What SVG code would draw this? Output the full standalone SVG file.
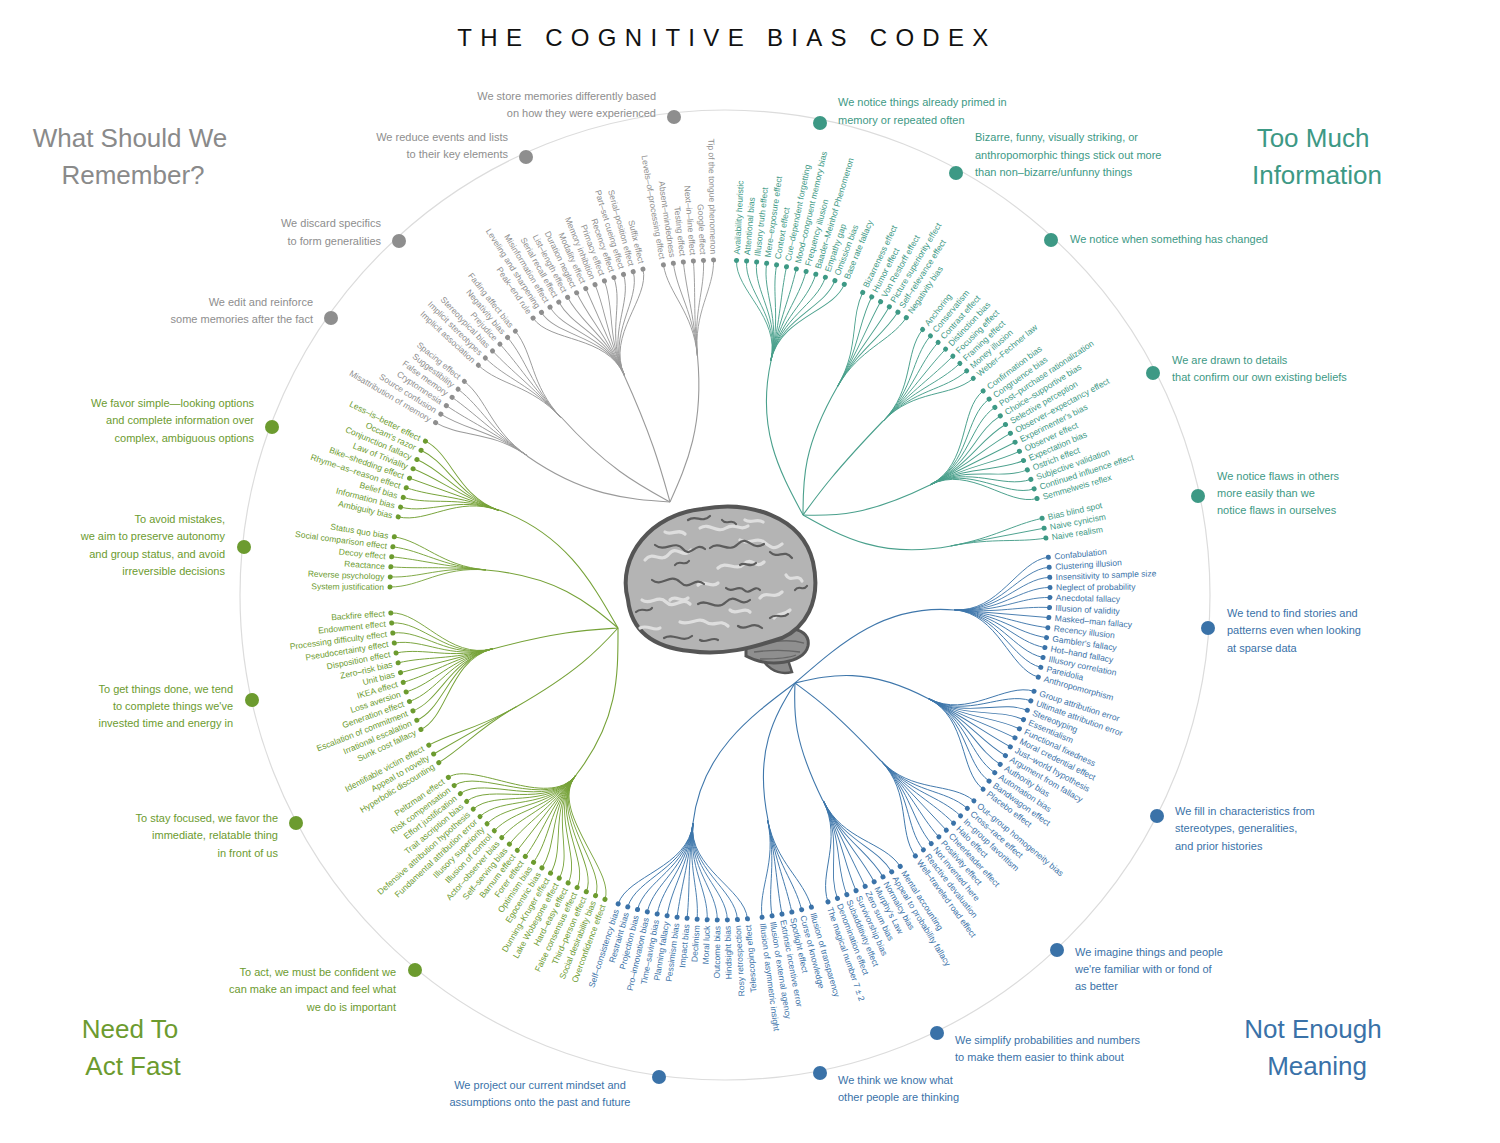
<svg xmlns="http://www.w3.org/2000/svg" width="1500" height="1143" viewBox="0 0 1500 1143">
<style>
.it text{font-family:"Liberation Sans",Arial,sans-serif;font-size:8.5px;stroke:none}
.it text.e{text-anchor:end}
.it circle{stroke:none}
#connectors path{fill:none;stroke-width:1.1}
.qg{fill:#8e8e8e;stroke:#9a9a9a}
.qt{fill:#3d9985;stroke:#4aa08c}
.qb{fill:#3a72a8;stroke:#3f77ab}
.qn{fill:#6c9b2f;stroke:#76a238}
#connectors .qg,#connectors .qt,#connectors .qb,#connectors .qn{fill:none}
.ds{font-family:"Liberation Sans",Arial,sans-serif;font-size:11px}
.hd{font-family:"Liberation Sans",Arial,sans-serif;font-size:26px;text-anchor:middle}
.rd{stroke:none}
.gy{fill:none;stroke:#5c5c5c;stroke-width:2.2;stroke-linecap:round;stroke-linejoin:round}
.gw{fill:none;stroke:#dedede;stroke-width:3.2;stroke-linecap:round}
</style>
<defs>
<path id="o" fill="none" stroke-width="0.9" d="M235 0L330 0"/>
<path id="a1" fill="none" stroke-width="0.9" d="M235 -3.6C279.7 -4.3 300 0 330 0"/>
<path id="a2" fill="none" stroke-width="0.9" d="M234.9 -7.2C279.5 -8.6 300 0 330 0"/>
<path id="a3" fill="none" stroke-width="0.9" d="M234.8 -10.8C279.4 -12.9 300 0 330 0"/>
<path id="a4" fill="none" stroke-width="0.9" d="M234.6 -14.3C279.2 -17 300 0 330 0"/>
<path id="a5" fill="none" stroke-width="0.9" d="M234.3 -17.9C278.8 -21.3 300 0 330 0"/>
<path id="a6" fill="none" stroke-width="0.9" d="M234 -21.5C278.5 -25.6 300 0 330 0"/>
<path id="a7" fill="none" stroke-width="0.9" d="M233.7 -25.1C278.1 -29.9 300 0 330 0"/>
<path id="a8" fill="none" stroke-width="0.9" d="M233.2 -28.6C277.5 -34 300 0 330 0"/>
<path id="a9" fill="none" stroke-width="0.9" d="M232.8 -32.2C277 -38.3 300 0 330 0"/>
<path id="a10" fill="none" stroke-width="0.9" d="M232.3 -35.8C276.4 -42.6 300 0 330 0"/>
<path id="a11" fill="none" stroke-width="0.9" d="M231.7 -39.3C275.7 -46.8 300 0 330 0"/>
<path id="a12" fill="none" stroke-width="0.9" d="M231.1 -42.8C275 -50.9 300 0 330 0"/>
<path id="a13" fill="none" stroke-width="0.9" d="M230.4 -46.4C274.2 -55.2 300 0 330 0"/>
<path id="a14" fill="none" stroke-width="0.9" d="M229.6 -49.9C273.2 -59.4 300 0 330 0"/>
<path id="a16" fill="none" stroke-width="0.9" d="M228 -56.9C271.3 -67.7 300 0 330 0"/>
<path id="a18" fill="none" stroke-width="0.9" d="M226.2 -63.8C269.2 -75.9 300 0 330 0"/>
<path id="a20" fill="none" stroke-width="0.9" d="M224.1 -70.7C266.7 -84.1 300 0 330 0"/>
<path id="b1" fill="none" stroke-width="0.9" d="M235 3.6C279.7 4.3 300 0 330 0"/>
<path id="b2" fill="none" stroke-width="0.9" d="M234.9 7.2C279.5 8.6 300 0 330 0"/>
<path id="b3" fill="none" stroke-width="0.9" d="M234.8 10.8C279.4 12.9 300 0 330 0"/>
<path id="b4" fill="none" stroke-width="0.9" d="M234.6 14.3C279.2 17 300 0 330 0"/>
<path id="b5" fill="none" stroke-width="0.9" d="M234.3 17.9C278.8 21.3 300 0 330 0"/>
<path id="b6" fill="none" stroke-width="0.9" d="M234 21.5C278.5 25.6 300 0 330 0"/>
<path id="b7" fill="none" stroke-width="0.9" d="M233.7 25.1C278.1 29.9 300 0 330 0"/>
<path id="b8" fill="none" stroke-width="0.9" d="M233.2 28.6C277.5 34 300 0 330 0"/>
<path id="b9" fill="none" stroke-width="0.9" d="M232.8 32.2C277 38.3 300 0 330 0"/>
<path id="b10" fill="none" stroke-width="0.9" d="M232.3 35.8C276.4 42.6 300 0 330 0"/>
<path id="b11" fill="none" stroke-width="0.9" d="M231.7 39.3C275.7 46.8 300 0 330 0"/>
<path id="b12" fill="none" stroke-width="0.9" d="M231.1 42.8C275 50.9 300 0 330 0"/>
<path id="b13" fill="none" stroke-width="0.9" d="M230.4 46.4C274.2 55.2 300 0 330 0"/>
<path id="b14" fill="none" stroke-width="0.9" d="M229.6 49.9C273.2 59.4 300 0 330 0"/>
<path id="b16" fill="none" stroke-width="0.9" d="M228 56.9C271.3 67.7 300 0 330 0"/>
<path id="b18" fill="none" stroke-width="0.9" d="M226.2 63.8C269.2 75.9 300 0 330 0"/>
<path id="b20" fill="none" stroke-width="0.9" d="M224.1 70.7C266.7 84.1 300 0 330 0"/>
</defs>
<rect width="1500" height="1143" fill="#fff"/>
<text x="727" y="46" font-family="'Liberation Sans',Arial,sans-serif" font-size="24" letter-spacing="8.3" text-anchor="middle" fill="#111">THE COGNITIVE BIAS CODEX</text>
<circle cx="725" cy="595" r="485" fill="none" stroke="#dcdcdc" stroke-width="1.2"/>
<g id="titles">
<text class="hd" fill="#8a8a8a"><tspan x="130" y="147">What Should We</tspan><tspan x="133" y="184">Remember?</tspan></text>
<text class="hd" fill="#3d9985"><tspan x="1313" y="147">Too Much</tspan><tspan x="1317" y="184">Information</tspan></text>
<text class="hd" fill="#6c9b2f"><tspan x="130" y="1038">Need To</tspan><tspan x="133" y="1075">Act Fast</tspan></text>
<text class="hd" fill="#3a72a8"><tspan x="1313" y="1038">Not Enough</tspan><tspan x="1317" y="1075">Meaning</tspan></text>
</g>
<g id="brain">
<path d="M758 652C764 666 776 676 792 672L786 654Z" fill="#8a8a8a" stroke="#555" stroke-width="2.5"/>
<path d="M746 642C772 622 812 624 808 646C804 664 768 668 746 656Z" fill="#8f8f8f" stroke="#555" stroke-width="3"/>
<g fill="none" stroke="#666" stroke-width="1.3"><path d="M756 645c16-4 34-6 48-2M754 652c16-2 32-2 46 0M760 659c12 0 26 0 36-4"/></g>
<path d="M628 600C616 556 652 514 702 509C748 500 802 516 813 562C822 603 804 628 782 638C752 648 722 656 690 651C660 648 632 636 628 600Z" fill="#b4b4b4" stroke="#555" stroke-width="4"/>
<g class="gw">
<path d="M645 560c8-10 16 4 24-6s14 6 22-4"/><path d="M700 528c10-6 16 6 26 0s14 4 22-2"/><path d="M642 600c8 6 16-6 24 2s16-6 24 2"/><path d="M718 568c8-8 18 4 26-4s12 6 20-2"/><path d="M680 622c10 4 18-6 26 0s14-4 22 4"/><path d="M760 598c6-8 14 2 22-6"/><path d="M665 532c6 4 14-4 20 2"/><path d="M740 540c8 6 16-4 24 2s10 8 18 2"/><path d="M698 585c6-6 14 4 20-2"/><path d="M640 628c8-4 14 4 20 0"/><path d="M786 575c4 8 12-2 16 6"/><path d="M730 610c6 6 14-4 20 2"/><path d="M670 600c6-6 12 4 18-2"/><path d="M745 520c6 4 12-2 18 2"/><path d="M790 610c-6 6-12 2-16 8"/>
</g>
<g class="gy">
<path d="M655 545c10 8 20-6 28 4s12-8 22 0"/><path d="M710 548c10-8 18 6 28-4s14 8 26 0"/><path d="M652 580c10 8 18-8 28 2s14-6 24 2"/><path d="M698 604c10-6 18 8 28-2s14 6 24-2"/><path d="M664 638c10-6 18 6 28-2"/><path d="M738 626c8 6 14-6 24 2"/><path d="M688 520c8-6 14 4 22-4"/><path d="M770 552c8 8 14-4 22 6"/><path d="M636 612c6-6 12 2 16-4"/><path d="M726 588c6 6 12-4 18 2s10-6 16 0"/><path d="M770 618c6-6 12 2 18-4"/><path d="M675 565c4-6 10 2 14-4"/><path d="M740 565c6-4 10 4 16-2"/><path d="M700 640c6 4 12-4 18 0"/><path d="M795 590c4-6 8 2 12-4"/><path d="M722 520c4 6 10-2 14 4"/>
</g>
</g>
<g id="connectors">
<path class="qt" d="M771 361C756 429 780 472 803 515"/>
<path class="qt" d="M837.5 386.5C802.5 447 803 481 803 515"/>
<path class="qt" d="M883 421C834.6 471.4 819 493 803 515"/>
<path class="qt" d="M930 485C867 516 835 516 803 515"/>
<path class="qt" d="M951 546C882 559 842 537 803 515"/>
<path class="qb" d="M954 610C884 604 840 644 795 683"/>
<path class="qb" d="M928 698.5C866 666 830 675 795 683"/>
<path class="qb" d="M881 761C833 710 814 697 795 683"/>
<path class="qb" d="M823 801C792 738 794 711 795 683"/>
<path class="qb" d="M768 820C754 751 774 717 795 683"/>
<path class="qb" d="M693 823C701 754 748 718 795 683"/>
<path class="qn" d="M576 775C619 720 618 674 618 628"/>
<path class="qn" d="M516 707C577 672 598 650 618 628"/>
<path class="qn" d="M492.5 649C560 631 589 630 618 628"/>
<path class="qn" d="M486 570C556 576 587 602 618 628"/>
<path class="qn" d="M499 510C565 534 591 581 618 628"/>
<path class="qg" d="M527 456C584 496 627 499 670 502"/>
<path class="qg" d="M561 417C608 469 639 485 670 502"/>
<path class="qg" d="M624 375C653 439 661 470 670 502"/>
<path class="qg" d="M697.5 356C704 426 687 464 670 502"/>
</g>
<g id="biases" transform="translate(720 590)">
<g id="c1" class="it qt" transform="rotate(-77.5)">
<g transform="rotate(-9.625)"><use href="#b11"/><circle cx="330" r="2.5"/><text x="336" y="3">Availability heuristic</text></g>
<g transform="rotate(-7.875)"><use href="#b9"/><circle cx="330" r="2.5"/><text x="336" y="3">Attentional bias</text></g>
<g transform="rotate(-6.125)"><use href="#b7"/><circle cx="330" r="2.5"/><text x="336" y="3">Illusory truth effect</text></g>
<g transform="rotate(-4.375)"><use href="#b5"/><circle cx="330" r="2.5"/><text x="336" y="3">Mere–exposure effect</text></g>
<g transform="rotate(-2.625)"><use href="#b3"/><circle cx="330" r="2.5"/><text x="336" y="3">Context effect</text></g>
<g transform="rotate(-0.875)"><use href="#b1"/><circle cx="330" r="2.5"/><text x="336" y="3">Cue–dependent forgetting</text></g>
<g transform="rotate(0.875)"><use href="#a1"/><circle cx="330" r="2.5"/><text x="336" y="3">Mood–congruent memory bias</text></g>
<g transform="rotate(2.625)"><use href="#a3"/><circle cx="330" r="2.5"/><text x="336" y="3">Frequency illusion</text></g>
<g transform="rotate(4.375)"><use href="#a5"/><circle cx="330" r="2.5"/><text x="336" y="3">Baader–Meinhof Phenomenon</text></g>
<g transform="rotate(6.125)"><use href="#a7"/><circle cx="330" r="2.5"/><text x="336" y="3">Empathy gap</text></g>
<g transform="rotate(7.875)"><use href="#a9"/><circle cx="330" r="2.5"/><text x="336" y="3">Omission bias</text></g>
<g transform="rotate(9.625)"><use href="#a11"/><circle cx="330" r="2.5"/><text x="336" y="3">Base rate fallacy</text></g>
</g>
<g id="c2" class="it qt" transform="rotate(-60)">
<g transform="rotate(-4.375)"><use href="#b5"/><circle cx="330" r="2.5"/><text x="336" y="3">Bizarreness effect</text></g>
<g transform="rotate(-2.625)"><use href="#b3"/><circle cx="330" r="2.5"/><text x="336" y="3">Humor effect</text></g>
<g transform="rotate(-0.875)"><use href="#b1"/><circle cx="330" r="2.5"/><text x="336" y="3">Von Restorff effect</text></g>
<g transform="rotate(0.875)"><use href="#a1"/><circle cx="330" r="2.5"/><text x="336" y="3">Picture superiority effect</text></g>
<g transform="rotate(2.625)"><use href="#a3"/><circle cx="330" r="2.5"/><text x="336" y="3">Self–relevance effect</text></g>
<g transform="rotate(4.375)"><use href="#a5"/><circle cx="330" r="2.5"/><text x="336" y="3">Negativity bias</text></g>
</g>
<g id="c3" class="it qt" transform="rotate(-46)">
<g transform="rotate(-6.125)"><use href="#b7"/><circle cx="330" r="2.5"/><text x="336" y="3">Anchoring</text></g>
<g transform="rotate(-4.375)"><use href="#b5"/><circle cx="330" r="2.5"/><text x="336" y="3">Conservatism</text></g>
<g transform="rotate(-2.625)"><use href="#b3"/><circle cx="330" r="2.5"/><text x="336" y="3">Contrast effect</text></g>
<g transform="rotate(-0.875)"><use href="#b1"/><circle cx="330" r="2.5"/><text x="336" y="3">Distinction bias</text></g>
<g transform="rotate(0.875)"><use href="#a1"/><circle cx="330" r="2.5"/><text x="336" y="3">Focusing effect</text></g>
<g transform="rotate(2.625)"><use href="#a3"/><circle cx="330" r="2.5"/><text x="336" y="3">Framing effect</text></g>
<g transform="rotate(4.375)"><use href="#a5"/><circle cx="330" r="2.5"/><text x="336" y="3">Money illusion</text></g>
<g transform="rotate(6.125)"><use href="#a7"/><circle cx="330" r="2.5"/><text x="336" y="3">Weber–Fechner law</text></g>
</g>
<g id="c4" class="it qt" transform="rotate(-26.6)">
<g transform="rotate(-10.5)"><use href="#b12"/><circle cx="330" r="2.5"/><text x="336" y="3">Confirmation bias</text></g>
<g transform="rotate(-8.75)"><use href="#b10"/><circle cx="330" r="2.5"/><text x="336" y="3">Congruence bias</text></g>
<g transform="rotate(-7)"><use href="#b8"/><circle cx="330" r="2.5"/><text x="336" y="3">Post–purchase rationalization</text></g>
<g transform="rotate(-5.25)"><use href="#b6"/><circle cx="330" r="2.5"/><text x="336" y="3">Choice–supportive bias</text></g>
<g transform="rotate(-3.5)"><use href="#b4"/><circle cx="330" r="2.5"/><text x="336" y="3">Selective perception</text></g>
<g transform="rotate(-1.75)"><use href="#b2"/><circle cx="330" r="2.5"/><text x="336" y="3">Observer–expectancy effect</text></g>
<g><use href="#o"/><circle cx="330" r="2.5"/><text x="336" y="3">Experimenter's bias</text></g>
<g transform="rotate(1.75)"><use href="#a2"/><circle cx="330" r="2.5"/><text x="336" y="3">Observer effect</text></g>
<g transform="rotate(3.5)"><use href="#a4"/><circle cx="330" r="2.5"/><text x="336" y="3">Expectation bias</text></g>
<g transform="rotate(5.25)"><use href="#a6"/><circle cx="330" r="2.5"/><text x="336" y="3">Ostrich effect</text></g>
<g transform="rotate(7)"><use href="#a8"/><circle cx="330" r="2.5"/><text x="336" y="3">Subjective validation</text></g>
<g transform="rotate(8.75)"><use href="#a10"/><circle cx="330" r="2.5"/><text x="336" y="3">Continued influence effect</text></g>
<g transform="rotate(10.5)"><use href="#a12"/><circle cx="330" r="2.5"/><text x="336" y="3">Semmelweis reflex</text></g>
</g>
<g id="c5" class="it qt" transform="rotate(-10.8)">
<g transform="rotate(-1.75)"><use href="#b2"/><circle cx="330" r="2.5"/><text x="336" y="3">Bias blind spot</text></g>
<g><use href="#o"/><circle cx="330" r="2.5"/><text x="336" y="3">Naive cynicism</text></g>
<g transform="rotate(1.75)"><use href="#a2"/><circle cx="330" r="2.5"/><text x="336" y="3">Naive realism</text></g>
</g>
<g id="c6" class="it qb" transform="rotate(4.8)">
<g transform="rotate(-10.5)"><use href="#b12"/><circle cx="330" r="2.5"/><text x="336" y="3">Confabulation</text></g>
<g transform="rotate(-8.75)"><use href="#b10"/><circle cx="330" r="2.5"/><text x="336" y="3">Clustering illusion</text></g>
<g transform="rotate(-7)"><use href="#b8"/><circle cx="330" r="2.5"/><text x="336" y="3">Insensitivity to sample size</text></g>
<g transform="rotate(-5.25)"><use href="#b6"/><circle cx="330" r="2.5"/><text x="336" y="3">Neglect of probability</text></g>
<g transform="rotate(-3.5)"><use href="#b4"/><circle cx="330" r="2.5"/><text x="336" y="3">Anecdotal fallacy</text></g>
<g transform="rotate(-1.75)"><use href="#b2"/><circle cx="330" r="2.5"/><text x="336" y="3">Illusion of validity</text></g>
<g><use href="#o"/><circle cx="330" r="2.5"/><text x="336" y="3">Masked–man fallacy</text></g>
<g transform="rotate(1.75)"><use href="#a2"/><circle cx="330" r="2.5"/><text x="336" y="3">Recency illusion</text></g>
<g transform="rotate(3.5)"><use href="#a4"/><circle cx="330" r="2.5"/><text x="336" y="3">Gambler's fallacy</text></g>
<g transform="rotate(5.25)"><use href="#a6"/><circle cx="330" r="2.5"/><text x="336" y="3">Hot–hand fallacy</text></g>
<g transform="rotate(7)"><use href="#a8"/><circle cx="330" r="2.5"/><text x="336" y="3">Illusory correlation</text></g>
<g transform="rotate(8.75)"><use href="#a10"/><circle cx="330" r="2.5"/><text x="336" y="3">Pareidolia</text></g>
<g transform="rotate(10.5)"><use href="#a12"/><circle cx="330" r="2.5"/><text x="336" y="3">Anthropomorphism</text></g>
</g>
<g id="c7" class="it qb" transform="rotate(27.5)">
<g transform="rotate(-9.625)"><use href="#b11"/><circle cx="330" r="2.5"/><text x="336" y="3">Group attribution error</text></g>
<g transform="rotate(-7.875)"><use href="#b9"/><circle cx="330" r="2.5"/><text x="336" y="3">Ultimate attribution error</text></g>
<g transform="rotate(-6.125)"><use href="#b7"/><circle cx="330" r="2.5"/><text x="336" y="3">Stereotyping</text></g>
<g transform="rotate(-4.375)"><use href="#b5"/><circle cx="330" r="2.5"/><text x="336" y="3">Essentialism</text></g>
<g transform="rotate(-2.625)"><use href="#b3"/><circle cx="330" r="2.5"/><text x="336" y="3">Functional fixedness</text></g>
<g transform="rotate(-0.875)"><use href="#b1"/><circle cx="330" r="2.5"/><text x="336" y="3">Moral credential effect</text></g>
<g transform="rotate(0.875)"><use href="#a1"/><circle cx="330" r="2.5"/><text x="336" y="3">Just–world hypothesis</text></g>
<g transform="rotate(2.625)"><use href="#a3"/><circle cx="330" r="2.5"/><text x="336" y="3">Argument from fallacy</text></g>
<g transform="rotate(4.375)"><use href="#a5"/><circle cx="330" r="2.5"/><text x="336" y="3">Authority bias</text></g>
<g transform="rotate(6.125)"><use href="#a7"/><circle cx="330" r="2.5"/><text x="336" y="3">Automation bias</text></g>
<g transform="rotate(7.875)"><use href="#a9"/><circle cx="330" r="2.5"/><text x="336" y="3">Bandwagon effect</text></g>
<g transform="rotate(9.625)"><use href="#a11"/><circle cx="330" r="2.5"/><text x="336" y="3">Placebo effect</text></g>
</g>
<g id="c8" class="it qb" transform="rotate(46.7)">
<g transform="rotate(-7)"><use href="#b8"/><circle cx="330" r="2.5"/><text x="336" y="3">Out–group homogeneity bias</text></g>
<g transform="rotate(-5.25)"><use href="#b6"/><circle cx="330" r="2.5"/><text x="336" y="3">Cross–race effect</text></g>
<g transform="rotate(-3.5)"><use href="#b4"/><circle cx="330" r="2.5"/><text x="336" y="3">In–group favoritism</text></g>
<g transform="rotate(-1.75)"><use href="#b2"/><circle cx="330" r="2.5"/><text x="336" y="3">Halo effect</text></g>
<g><use href="#o"/><circle cx="330" r="2.5"/><text x="336" y="3">Cheerleader effect</text></g>
<g transform="rotate(1.75)"><use href="#a2"/><circle cx="330" r="2.5"/><text x="336" y="3">Positivity effect</text></g>
<g transform="rotate(3.5)"><use href="#a4"/><circle cx="330" r="2.5"/><text x="336" y="3">Not invented here</text></g>
<g transform="rotate(5.25)"><use href="#a6"/><circle cx="330" r="2.5"/><text x="336" y="3">Reactive devaluation</text></g>
<g transform="rotate(7)"><use href="#a8"/><circle cx="330" r="2.5"/><text x="336" y="3">Well–traveled road effect</text></g>
</g>
<g id="c9" class="it qb" transform="rotate(63.9)">
<g transform="rotate(-7)"><use href="#b8"/><circle cx="330" r="2.5"/><text x="336" y="3">Mental accounting</text></g>
<g transform="rotate(-5.25)"><use href="#b6"/><circle cx="330" r="2.5"/><text x="336" y="3">Appeal to probability fallacy</text></g>
<g transform="rotate(-3.5)"><use href="#b4"/><circle cx="330" r="2.5"/><text x="336" y="3">Normalcy bias</text></g>
<g transform="rotate(-1.75)"><use href="#b2"/><circle cx="330" r="2.5"/><text x="336" y="3">Murphy's Law</text></g>
<g><use href="#o"/><circle cx="330" r="2.5"/><text x="336" y="3">Zero sum bias</text></g>
<g transform="rotate(1.75)"><use href="#a2"/><circle cx="330" r="2.5"/><text x="336" y="3">Survivorship bias</text></g>
<g transform="rotate(3.5)"><use href="#a4"/><circle cx="330" r="2.5"/><text x="336" y="3">Subadditivity effect</text></g>
<g transform="rotate(5.25)"><use href="#a6"/><circle cx="330" r="2.5"/><text x="336" y="3">Denomination effect</text></g>
<g transform="rotate(7)"><use href="#a8"/><circle cx="330" r="2.5"/><text x="336" y="3">The magical number 7 ± 2</text></g>
</g>
<g id="c10" class="it qb" transform="rotate(78.3)">
<g transform="rotate(-4.375)"><use href="#b5"/><circle cx="330" r="2.5"/><text x="336" y="3">Illusion of transparency</text></g>
<g transform="rotate(-2.625)"><use href="#b3"/><circle cx="330" r="2.5"/><text x="336" y="3">Curse of knowledge</text></g>
<g transform="rotate(-0.875)"><use href="#b1"/><circle cx="330" r="2.5"/><text x="336" y="3">Spotlight effect</text></g>
<g transform="rotate(0.875)"><use href="#a1"/><circle cx="330" r="2.5"/><text x="336" y="3">Extrinsic incentive error</text></g>
<g transform="rotate(2.625)"><use href="#a3"/><circle cx="330" r="2.5"/><text x="336" y="3">Illusion of external agency</text></g>
<g transform="rotate(4.375)"><use href="#a5"/><circle cx="330" r="2.5"/><text x="336" y="3">Illusion of asymmetric insight</text></g>
</g>
<g id="c11" class="it qb" transform="rotate(96.6)">
<g transform="rotate(-11.375)"><use href="#b13"/><circle cx="330" r="2.5"/><text class="e" x="324" y="3" transform="rotate(180 330 0)">Telescoping effect</text></g>
<g transform="rotate(-9.625)"><use href="#b11"/><circle cx="330" r="2.5"/><text class="e" x="324" y="3" transform="rotate(180 330 0)">Rosy retrospection</text></g>
<g transform="rotate(-7.875)"><use href="#b9"/><circle cx="330" r="2.5"/><text class="e" x="324" y="3" transform="rotate(180 330 0)">Hindsight bias</text></g>
<g transform="rotate(-6.125)"><use href="#b7"/><circle cx="330" r="2.5"/><text class="e" x="324" y="3" transform="rotate(180 330 0)">Outcome bias</text></g>
<g transform="rotate(-4.375)"><use href="#b5"/><circle cx="330" r="2.5"/><text class="e" x="324" y="3" transform="rotate(180 330 0)">Moral luck</text></g>
<g transform="rotate(-2.625)"><use href="#b3"/><circle cx="330" r="2.5"/><text class="e" x="324" y="3" transform="rotate(180 330 0)">Declinism</text></g>
<g transform="rotate(-0.875)"><use href="#b1"/><circle cx="330" r="2.5"/><text class="e" x="324" y="3" transform="rotate(180 330 0)">Impact bias</text></g>
<g transform="rotate(0.875)"><use href="#a1"/><circle cx="330" r="2.5"/><text class="e" x="324" y="3" transform="rotate(180 330 0)">Pessimism bias</text></g>
<g transform="rotate(2.625)"><use href="#a3"/><circle cx="330" r="2.5"/><text class="e" x="324" y="3" transform="rotate(180 330 0)">Planning fallacy</text></g>
<g transform="rotate(4.375)"><use href="#a5"/><circle cx="330" r="2.5"/><text class="e" x="324" y="3" transform="rotate(180 330 0)">Time–saving bias</text></g>
<g transform="rotate(6.125)"><use href="#a7"/><circle cx="330" r="2.5"/><text class="e" x="324" y="3" transform="rotate(180 330 0)">Pro–innovation bias</text></g>
<g transform="rotate(7.875)"><use href="#a9"/><circle cx="330" r="2.5"/><text class="e" x="324" y="3" transform="rotate(180 330 0)">Projection bias</text></g>
<g transform="rotate(9.625)"><use href="#a11"/><circle cx="330" r="2.5"/><text class="e" x="324" y="3" transform="rotate(180 330 0)">Restraint bias</text></g>
<g transform="rotate(11.375)"><use href="#a13"/><circle cx="330" r="2.5"/><text class="e" x="324" y="3" transform="rotate(180 330 0)">Self–consistency bias</text></g>
</g>
<g id="c12" class="it qn" transform="rotate(127.9)">
<g transform="rotate(-17.5)"><use href="#b20"/><circle cx="330" r="2.5"/><text class="e" x="324" y="3" transform="rotate(180 330 0)">Overconfidence effect</text></g>
<g transform="rotate(-15.75)"><use href="#b18"/><circle cx="330" r="2.5"/><text class="e" x="324" y="3" transform="rotate(180 330 0)">Social desirability bias</text></g>
<g transform="rotate(-14)"><use href="#b16"/><circle cx="330" r="2.5"/><text class="e" x="324" y="3" transform="rotate(180 330 0)">Third–person effect</text></g>
<g transform="rotate(-12.25)"><use href="#b14"/><circle cx="330" r="2.5"/><text class="e" x="324" y="3" transform="rotate(180 330 0)">False consensus effect</text></g>
<g transform="rotate(-10.5)"><use href="#b12"/><circle cx="330" r="2.5"/><text class="e" x="324" y="3" transform="rotate(180 330 0)">Hard–easy effect</text></g>
<g transform="rotate(-8.75)"><use href="#b10"/><circle cx="330" r="2.5"/><text class="e" x="324" y="3" transform="rotate(180 330 0)">Lake Wobegone effect</text></g>
<g transform="rotate(-7)"><use href="#b8"/><circle cx="330" r="2.5"/><text class="e" x="324" y="3" transform="rotate(180 330 0)">Dunning–Kruger effect</text></g>
<g transform="rotate(-5.25)"><use href="#b6"/><circle cx="330" r="2.5"/><text class="e" x="324" y="3" transform="rotate(180 330 0)">Egocentric bias</text></g>
<g transform="rotate(-3.5)"><use href="#b4"/><circle cx="330" r="2.5"/><text class="e" x="324" y="3" transform="rotate(180 330 0)">Optimism bias</text></g>
<g transform="rotate(-1.75)"><use href="#b2"/><circle cx="330" r="2.5"/><text class="e" x="324" y="3" transform="rotate(180 330 0)">Forer effect</text></g>
<g><use href="#o"/><circle cx="330" r="2.5"/><text class="e" x="324" y="3" transform="rotate(180 330 0)">Barnum effect</text></g>
<g transform="rotate(1.75)"><use href="#a2"/><circle cx="330" r="2.5"/><text class="e" x="324" y="3" transform="rotate(180 330 0)">Self–serving bias</text></g>
<g transform="rotate(3.5)"><use href="#a4"/><circle cx="330" r="2.5"/><text class="e" x="324" y="3" transform="rotate(180 330 0)">Actor–observer bias</text></g>
<g transform="rotate(5.25)"><use href="#a6"/><circle cx="330" r="2.5"/><text class="e" x="324" y="3" transform="rotate(180 330 0)">Illusion of control</text></g>
<g transform="rotate(7)"><use href="#a8"/><circle cx="330" r="2.5"/><text class="e" x="324" y="3" transform="rotate(180 330 0)">Illusory superiority</text></g>
<g transform="rotate(8.75)"><use href="#a10"/><circle cx="330" r="2.5"/><text class="e" x="324" y="3" transform="rotate(180 330 0)">Fundamental attribution error</text></g>
<g transform="rotate(10.5)"><use href="#a12"/><circle cx="330" r="2.5"/><text class="e" x="324" y="3" transform="rotate(180 330 0)">Defensive attribution hypothesis</text></g>
<g transform="rotate(12.25)"><use href="#a14"/><circle cx="330" r="2.5"/><text class="e" x="324" y="3" transform="rotate(180 330 0)">Trait ascription bias</text></g>
<g transform="rotate(14)"><use href="#a16"/><circle cx="330" r="2.5"/><text class="e" x="324" y="3" transform="rotate(180 330 0)">Effort justification</text></g>
<g transform="rotate(15.75)"><use href="#a18"/><circle cx="330" r="2.5"/><text class="e" x="324" y="3" transform="rotate(180 330 0)">Risk compensation</text></g>
<g transform="rotate(17.5)"><use href="#a20"/><circle cx="330" r="2.5"/><text class="e" x="324" y="3" transform="rotate(180 330 0)">Peltzman effect</text></g>
</g>
<g id="c13" class="it qn" transform="rotate(150.2)">
<g transform="rotate(-1.75)"><use href="#b2"/><circle cx="330" r="2.5"/><text class="e" x="324" y="3" transform="rotate(180 330 0)">Hyperbolic discounting</text></g>
<g><use href="#o"/><circle cx="330" r="2.5"/><text class="e" x="324" y="3" transform="rotate(180 330 0)">Appeal to novelty</text></g>
<g transform="rotate(1.75)"><use href="#a2"/><circle cx="330" r="2.5"/><text class="e" x="324" y="3" transform="rotate(180 330 0)">Identifiable victim effect</text></g>
</g>
<g id="c14" class="it qn" transform="rotate(165.5)">
<g transform="rotate(-10.5)"><use href="#b12"/><circle cx="330" r="2.5"/><text class="e" x="324" y="3" transform="rotate(180 330 0)">Sunk cost fallacy</text></g>
<g transform="rotate(-8.75)"><use href="#b10"/><circle cx="330" r="2.5"/><text class="e" x="324" y="3" transform="rotate(180 330 0)">Irrational escalation</text></g>
<g transform="rotate(-7)"><use href="#b8"/><circle cx="330" r="2.5"/><text class="e" x="324" y="3" transform="rotate(180 330 0)">Escalation of commitment</text></g>
<g transform="rotate(-5.25)"><use href="#b6"/><circle cx="330" r="2.5"/><text class="e" x="324" y="3" transform="rotate(180 330 0)">Generation effect</text></g>
<g transform="rotate(-3.5)"><use href="#b4"/><circle cx="330" r="2.5"/><text class="e" x="324" y="3" transform="rotate(180 330 0)">Loss aversion</text></g>
<g transform="rotate(-1.75)"><use href="#b2"/><circle cx="330" r="2.5"/><text class="e" x="324" y="3" transform="rotate(180 330 0)">IKEA effect</text></g>
<g><use href="#o"/><circle cx="330" r="2.5"/><text class="e" x="324" y="3" transform="rotate(180 330 0)">Unit bias</text></g>
<g transform="rotate(1.75)"><use href="#a2"/><circle cx="330" r="2.5"/><text class="e" x="324" y="3" transform="rotate(180 330 0)">Zero–risk bias</text></g>
<g transform="rotate(3.5)"><use href="#a4"/><circle cx="330" r="2.5"/><text class="e" x="324" y="3" transform="rotate(180 330 0)">Disposition effect</text></g>
<g transform="rotate(5.25)"><use href="#a6"/><circle cx="330" r="2.5"/><text class="e" x="324" y="3" transform="rotate(180 330 0)">Pseudocertainty effect</text></g>
<g transform="rotate(7)"><use href="#a8"/><circle cx="330" r="2.5"/><text class="e" x="324" y="3" transform="rotate(180 330 0)">Processing difficulty effect</text></g>
<g transform="rotate(8.75)"><use href="#a10"/><circle cx="330" r="2.5"/><text class="e" x="324" y="3" transform="rotate(180 330 0)">Endowment effect</text></g>
<g transform="rotate(10.5)"><use href="#a12"/><circle cx="330" r="2.5"/><text class="e" x="324" y="3" transform="rotate(180 330 0)">Backfire effect</text></g>
</g>
<g id="c15" class="it qn" transform="rotate(184.9)">
<g transform="rotate(-4.375)"><use href="#b5"/><circle cx="330" r="2.5"/><text class="e" x="324" y="3" transform="rotate(180 330 0)">System justification</text></g>
<g transform="rotate(-2.625)"><use href="#b3"/><circle cx="330" r="2.5"/><text class="e" x="324" y="3" transform="rotate(180 330 0)">Reverse psychology</text></g>
<g transform="rotate(-0.875)"><use href="#b1"/><circle cx="330" r="2.5"/><text class="e" x="324" y="3" transform="rotate(180 330 0)">Reactance</text></g>
<g transform="rotate(0.875)"><use href="#a1"/><circle cx="330" r="2.5"/><text class="e" x="324" y="3" transform="rotate(180 330 0)">Decoy effect</text></g>
<g transform="rotate(2.625)"><use href="#a3"/><circle cx="330" r="2.5"/><text class="e" x="324" y="3" transform="rotate(180 330 0)">Social comparison effect</text></g>
<g transform="rotate(4.375)"><use href="#a5"/><circle cx="330" r="2.5"/><text class="e" x="324" y="3" transform="rotate(180 330 0)">Status quo bias</text></g>
</g>
<g id="c16" class="it qn" transform="rotate(-160.2)">
<g transform="rotate(-7)"><use href="#b8"/><circle cx="330" r="2.5"/><text class="e" x="324" y="3" transform="rotate(180 330 0)">Ambiguity bias</text></g>
<g transform="rotate(-5.25)"><use href="#b6"/><circle cx="330" r="2.5"/><text class="e" x="324" y="3" transform="rotate(180 330 0)">Information bias</text></g>
<g transform="rotate(-3.5)"><use href="#b4"/><circle cx="330" r="2.5"/><text class="e" x="324" y="3" transform="rotate(180 330 0)">Belief bias</text></g>
<g transform="rotate(-1.75)"><use href="#b2"/><circle cx="330" r="2.5"/><text class="e" x="324" y="3" transform="rotate(180 330 0)">Rhyme–as–reason effect</text></g>
<g><use href="#o"/><circle cx="330" r="2.5"/><text class="e" x="324" y="3" transform="rotate(180 330 0)">Bike–shedding effect</text></g>
<g transform="rotate(1.75)"><use href="#a2"/><circle cx="330" r="2.5"/><text class="e" x="324" y="3" transform="rotate(180 330 0)">Law of Triviality</text></g>
<g transform="rotate(3.5)"><use href="#a4"/><circle cx="330" r="2.5"/><text class="e" x="324" y="3" transform="rotate(180 330 0)">Conjunction fallacy</text></g>
<g transform="rotate(5.25)"><use href="#a6"/><circle cx="330" r="2.5"/><text class="e" x="324" y="3" transform="rotate(180 330 0)">Occam's razor</text></g>
<g transform="rotate(7)"><use href="#a8"/><circle cx="330" r="2.5"/><text class="e" x="324" y="3" transform="rotate(180 330 0)">Less–is–better effect</text></g>
</g>
<g id="c17" class="it qg" transform="rotate(-145.15)">
<g transform="rotate(-4.375)"><use href="#b5"/><circle cx="330" r="2.5"/><text class="e" x="324" y="3" transform="rotate(180 330 0)">Misattribution of memory</text></g>
<g transform="rotate(-2.625)"><use href="#b3"/><circle cx="330" r="2.5"/><text class="e" x="324" y="3" transform="rotate(180 330 0)">Source confusion</text></g>
<g transform="rotate(-0.875)"><use href="#b1"/><circle cx="330" r="2.5"/><text class="e" x="324" y="3" transform="rotate(180 330 0)">Cryptomnesia</text></g>
<g transform="rotate(0.875)"><use href="#a1"/><circle cx="330" r="2.5"/><text class="e" x="324" y="3" transform="rotate(180 330 0)">False memory</text></g>
<g transform="rotate(2.625)"><use href="#a3"/><circle cx="330" r="2.5"/><text class="e" x="324" y="3" transform="rotate(180 330 0)">Suggestibility</text></g>
<g transform="rotate(4.375)"><use href="#a5"/><circle cx="330" r="2.5"/><text class="e" x="324" y="3" transform="rotate(180 330 0)">Spacing effect</text></g>
</g>
<g id="c18" class="it qg" transform="rotate(-132.7)">
<g transform="rotate(-4.375)"><use href="#b5"/><circle cx="330" r="2.5"/><text class="e" x="324" y="3" transform="rotate(180 330 0)">Implicit association</text></g>
<g transform="rotate(-2.625)"><use href="#b3"/><circle cx="330" r="2.5"/><text class="e" x="324" y="3" transform="rotate(180 330 0)">Implicit stereotypes</text></g>
<g transform="rotate(-0.875)"><use href="#b1"/><circle cx="330" r="2.5"/><text class="e" x="324" y="3" transform="rotate(180 330 0)">Stereotypical bias</text></g>
<g transform="rotate(0.875)"><use href="#a1"/><circle cx="330" r="2.5"/><text class="e" x="324" y="3" transform="rotate(180 330 0)">Prejudice</text></g>
<g transform="rotate(2.625)"><use href="#a3"/><circle cx="330" r="2.5"/><text class="e" x="324" y="3" transform="rotate(180 330 0)">Negativity bias</text></g>
<g transform="rotate(4.375)"><use href="#a5"/><circle cx="330" r="2.5"/><text class="e" x="324" y="3" transform="rotate(180 330 0)">Fading affect bias</text></g>
</g>
<g id="c19" class="it qg" transform="rotate(-114)">
<g transform="rotate(-10.5)"><use href="#b12"/><circle cx="330" r="2.5"/><text class="e" x="324" y="3" transform="rotate(180 330 0)">Peak–end rule</text></g>
<g transform="rotate(-8.75)"><use href="#b10"/><circle cx="330" r="2.5"/><text class="e" x="324" y="3" transform="rotate(180 330 0)">Leveling and sharpening</text></g>
<g transform="rotate(-7)"><use href="#b8"/><circle cx="330" r="2.5"/><text class="e" x="324" y="3" transform="rotate(180 330 0)">Misinformation effect</text></g>
<g transform="rotate(-5.25)"><use href="#b6"/><circle cx="330" r="2.5"/><text class="e" x="324" y="3" transform="rotate(180 330 0)">Serial recall effect</text></g>
<g transform="rotate(-3.5)"><use href="#b4"/><circle cx="330" r="2.5"/><text class="e" x="324" y="3" transform="rotate(180 330 0)">List–length effect</text></g>
<g transform="rotate(-1.75)"><use href="#b2"/><circle cx="330" r="2.5"/><text class="e" x="324" y="3" transform="rotate(180 330 0)">Duration neglect</text></g>
<g><use href="#o"/><circle cx="330" r="2.5"/><text class="e" x="324" y="3" transform="rotate(180 330 0)">Modality effect</text></g>
<g transform="rotate(1.75)"><use href="#a2"/><circle cx="330" r="2.5"/><text class="e" x="324" y="3" transform="rotate(180 330 0)">Memory inhibition</text></g>
<g transform="rotate(3.5)"><use href="#a4"/><circle cx="330" r="2.5"/><text class="e" x="324" y="3" transform="rotate(180 330 0)">Primacy effect</text></g>
<g transform="rotate(5.25)"><use href="#a6"/><circle cx="330" r="2.5"/><text class="e" x="324" y="3" transform="rotate(180 330 0)">Recency effect</text></g>
<g transform="rotate(7)"><use href="#a8"/><circle cx="330" r="2.5"/><text class="e" x="324" y="3" transform="rotate(180 330 0)">Part–set cueing effect</text></g>
<g transform="rotate(8.75)"><use href="#a10"/><circle cx="330" r="2.5"/><text class="e" x="324" y="3" transform="rotate(180 330 0)">Serial–position effect</text></g>
<g transform="rotate(10.5)"><use href="#a12"/><circle cx="330" r="2.5"/><text class="e" x="324" y="3" transform="rotate(180 330 0)">Suffix effect</text></g>
</g>
<g id="c20" class="it qg" transform="rotate(-95.5)">
<g transform="rotate(-4.375)"><use href="#b5"/><circle cx="330" r="2.5"/><text class="e" x="324" y="3" transform="rotate(180 330 0)">Levels–of–processing effect</text></g>
<g transform="rotate(-2.625)"><use href="#b3"/><circle cx="330" r="2.5"/><text class="e" x="324" y="3" transform="rotate(180 330 0)">Absent–mindedness</text></g>
<g transform="rotate(-0.875)"><use href="#b1"/><circle cx="330" r="2.5"/><text class="e" x="324" y="3" transform="rotate(180 330 0)">Testing effect</text></g>
<g transform="rotate(0.875)"><use href="#a1"/><circle cx="330" r="2.5"/><text class="e" x="324" y="3" transform="rotate(180 330 0)">Next–in–line effect</text></g>
<g transform="rotate(2.625)"><use href="#a3"/><circle cx="330" r="2.5"/><text class="e" x="324" y="3" transform="rotate(180 330 0)">Google effect</text></g>
<g transform="rotate(4.375)"><use href="#a5"/><circle cx="330" r="2.5"/><text class="e" x="324" y="3" transform="rotate(180 330 0)">Tip of the tongue phenomenon</text></g>
</g>
</g>
<g id="ring-grey" fill="#8e8e8e">
<circle class="rd" cx="674" cy="117" r="7"/><text class="ds" text-anchor="end"><tspan x="656" y="100">We store memories differently based</tspan><tspan x="656" y="117">on how they were experienced</tspan></text>
<circle class="rd" cx="526" cy="157" r="7"/><text class="ds" text-anchor="end"><tspan x="508" y="141">We reduce events and lists</tspan><tspan x="508" y="158">to their key elements</tspan></text>
<circle class="rd" cx="399" cy="241" r="7"/><text class="ds" text-anchor="end"><tspan x="381" y="227">We discard specifics</tspan><tspan x="381" y="245">to form generalities</tspan></text>
<circle class="rd" cx="331" cy="318" r="7"/><text class="ds" text-anchor="end"><tspan x="313" y="306">We edit and reinforce</tspan><tspan x="313" y="323">some memories after the fact</tspan></text>
</g>
<g id="ring-green" fill="#6c9b2f">
<circle class="rd" cx="272" cy="427" r="7"/><text class="ds" text-anchor="end"><tspan x="254" y="407">We favor simple—looking options</tspan><tspan x="254" y="424">and complete information over</tspan><tspan x="254" y="442">complex, ambiguous options</tspan></text>
<circle class="rd" cx="244" cy="547" r="7"/><text class="ds" text-anchor="end"><tspan x="225" y="523">To avoid mistakes,</tspan><tspan x="225" y="540">we aim to preserve autonomy</tspan><tspan x="225" y="558">and group status, and avoid</tspan><tspan x="225" y="575">irreversible decisions</tspan></text>
<circle class="rd" cx="252" cy="700" r="7"/><text class="ds" text-anchor="end"><tspan x="233" y="693">To get things done, we tend</tspan><tspan x="233" y="710">to complete things we've</tspan><tspan x="233" y="727">invested time and energy in</tspan></text>
<circle class="rd" cx="296" cy="823" r="7"/><text class="ds" text-anchor="end"><tspan x="278" y="822">To stay focused, we favor the</tspan><tspan x="278" y="839">immediate, relatable thing</tspan><tspan x="278" y="857">in front of us</tspan></text>
<circle class="rd" cx="415" cy="970" r="7"/><text class="ds" text-anchor="end"><tspan x="396" y="976">To act, we must be confident we</tspan><tspan x="396" y="993">can make an impact and feel what</tspan><tspan x="396" y="1011">we do is important</tspan></text>
</g>
<g id="ring-blue" fill="#3a72a8">
<circle class="rd" cx="659" cy="1077" r="7"/><text class="ds" text-anchor="middle"><tspan x="540" y="1089">We project our current mindset and</tspan><tspan x="540" y="1106">assumptions onto the past and future</tspan></text>
<circle class="rd" cx="820" cy="1073" r="7"/><text class="ds"><tspan x="838" y="1084">We think we know what</tspan><tspan x="838" y="1101">other people are thinking</tspan></text>
<circle class="rd" cx="937" cy="1033" r="7"/><text class="ds"><tspan x="955" y="1044">We simplify probabilities and numbers</tspan><tspan x="955" y="1061">to make them easier to think about</tspan></text>
<circle class="rd" cx="1057" cy="950" r="7"/><text class="ds"><tspan x="1075" y="956">We imagine things and people</tspan><tspan x="1075" y="973">we're familiar with or fond of</tspan><tspan x="1075" y="990">as better</tspan></text>
<circle class="rd" cx="1157" cy="816" r="7"/><text class="ds"><tspan x="1175" y="815">We fill in characteristics from</tspan><tspan x="1175" y="832">stereotypes, generalities,</tspan><tspan x="1175" y="850">and prior histories</tspan></text>
<circle class="rd" cx="1208" cy="628" r="7"/><text class="ds"><tspan x="1227" y="617">We tend to find stories and</tspan><tspan x="1227" y="634">patterns even when looking</tspan><tspan x="1227" y="652">at sparse data</tspan></text>
</g>
<g id="ring-teal" fill="#3d9985">
<circle class="rd" cx="1198" cy="496" r="7"/><text class="ds"><tspan x="1217" y="480">We notice flaws in others</tspan><tspan x="1217" y="497">more easily than we</tspan><tspan x="1217" y="514">notice flaws in ourselves</tspan></text>
<circle class="rd" cx="1153" cy="373" r="7"/><text class="ds"><tspan x="1172" y="364">We are drawn to details</tspan><tspan x="1172" y="381">that confirm our own existing beliefs</tspan></text>
<circle class="rd" cx="1051" cy="240" r="7"/><text class="ds"><tspan x="1070" y="243">We notice when something has changed</tspan></text>
<circle class="rd" cx="956" cy="173" r="7"/><text class="ds"><tspan x="975" y="141">Bizarre, funny, visually striking, or</tspan><tspan x="975" y="159">anthropomorphic things stick out more</tspan><tspan x="975" y="176">than non–bizarre/unfunny things</tspan></text>
<circle class="rd" cx="820" cy="123" r="7"/><text class="ds"><tspan x="838" y="106">We notice things already primed in</tspan><tspan x="838" y="124">memory or repeated often</tspan></text>
</g>
</svg>
